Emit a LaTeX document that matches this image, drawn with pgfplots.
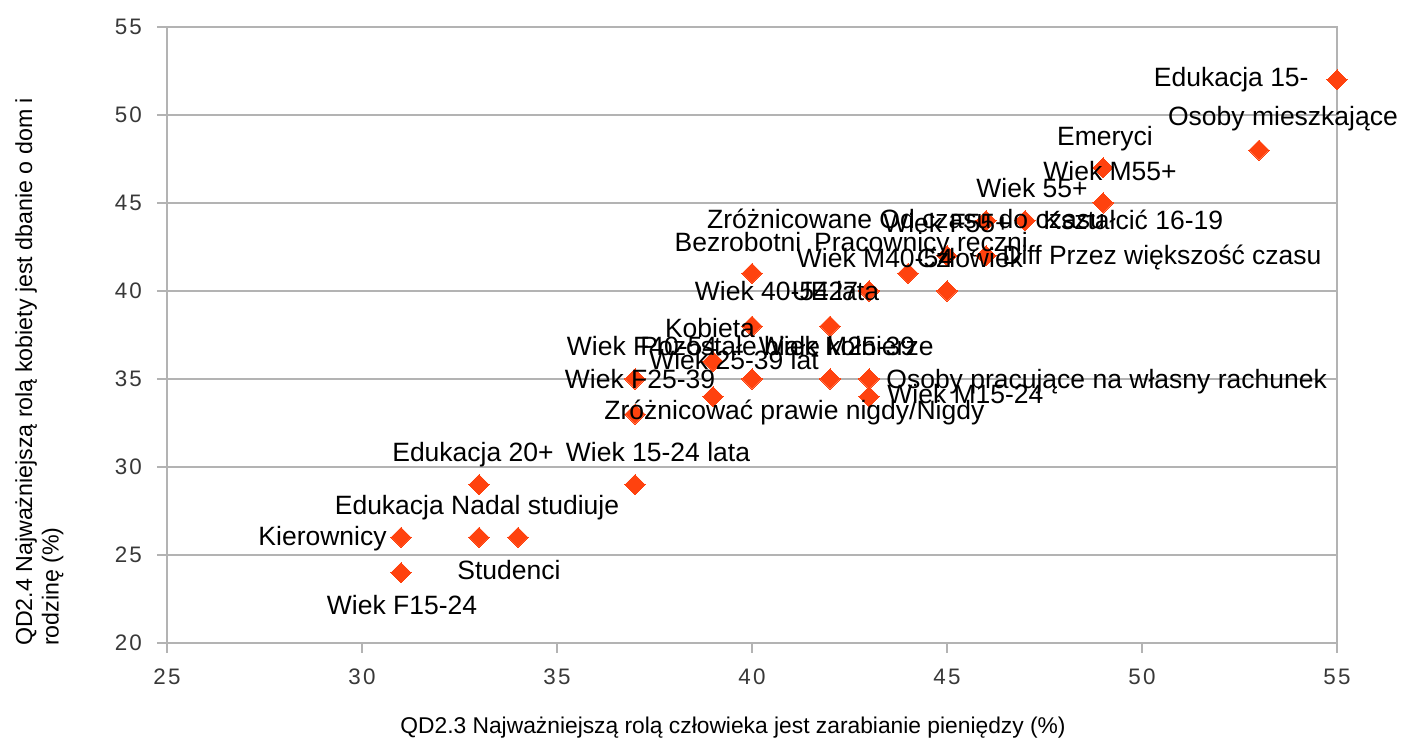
\documentclass[border=0pt]{standalone}
\usepackage{fontspec}
\setmainfont{Liberation Sans}
\newfontfamily\tickfont[LetterSpace=10]{Liberation Sans}
\usepackage{pgfplots}
\usepackage{pgfplotstable}
\pgfplotsset{compat=1.18}
\usetikzlibrary{calc}
\definecolor{orangered}{HTML}{FF420E}
\definecolor{gridgray}{HTML}{B3B3B3}

% data points
\pgfplotstableread{
x y
55 52
53 48
49 47
49 45
47 44
46 44
45 42
46 42
40 41
44 41
43 40
45 40
40 38
42 38
39 36
37 35
40 35
42 35
43 35
39 34
43 34
37 33
33 29
37 29
31 26
33 26
34 26
31 24
}\pts

% labels: point x y, offset dx dy (pt), text
\pgfplotstableread{
x y dx dy label
53 48 12 16 {Osoby mieszkające}
49 47 1 14.5 {Emeryci}
49 45 3.5 15 {Wiek M55+}
47 44 3.5 15 {Wiek 55+}
46 44 -40 -0.5 {Zróżnicowane Od czasu do czasu}
45 42 0 15 {Wiek F55+}
40 41 -7 14.5 {Bezrobotni}
44 41 6.5 14.5 {Pracownicy ręczni}
43 40 3 15.5 {Wiek M40-54}
45 40 11.5 15.5 {Człowiek}
40 38 17.5 16.5 {Wiek 40-54 lata}
42 38 -2.5 16.5 {UE27}
39 36 -1.5 15.5 {Kobieta}
37 35 2.5 -1 {Wiek F25-39}
37 35 3.5 15.5 {Wiek F40-54}
40 35 17.5 15.5 {Pozostałe białe kołnierze}
39 34 10.5 17 {Wiek 25-39 lat}
42 35 3.5 15.5 {Wiek M25-39}
33 29 -3 15 {Edukacja 20+}
37 29 11.5 15 {Wiek 15-24 lata}
33 26 -1 15 {Edukacja Nadal studiuje}
34 26 -4.5 -17.5 {Studenci}
31 24 0.5 -17.5 {Wiek F15-24}
}\lblcenter

\pgfplotstableread{
x y dx dy label
47 44 9 -1 {Kształcić 16-19}
46 42 8 -1 {Diff Przez większość czasu}
43 35 8.5 -1 {Osoby pracujące na własny rachunek}
43 34 9 0 {Wiek M15-24}
37 33 -15.5 1 {Zróżnicować prawie nigdy/Nigdy}
}\lblwest

\pgfplotstableread{
x y dx dy label
55 52 -14 0 {Edukacja 15-}
31 26 -7 -0.5 {Kierownicy}
}\lbleast

\begin{document}
\begin{tikzpicture}
\begin{axis}[
  scale only axis, width=585pt, height=308pt,
  xmin=25, xmax=55, ymin=20, ymax=55,
  xtick={25,30,...,55}, ytick={20,25,...,55},
  ymajorgrids,
  grid style={draw=gridgray, line width=0.6pt},
  axis line style={draw=gridgray, line width=0.6pt},
  tick style={draw=gridgray, line width=0.6pt},
  tick align=outside, major tick length=5pt,
  xtick pos=left, ytick pos=left,
  ticklabel style={font=\tickfont\fontsize{11.2}{13}\selectfont, text=black!78},
  /pgf/number format/assume math mode=true,
  xticklabel style={yshift=-4.5pt},
  yticklabel style={xshift=-4pt},
  every axis x label/.style={at={(axis description cs:0.4838,-0.138)}, anchor=center, font=\fontsize{11.4}{13}\selectfont},
  every axis y label/.style={at={(axis description cs:-0.0825,0.44)}, anchor=south, rotate=90, align=left, font=\fontsize{11.6}{13.2}\selectfont},
  xlabel={QD2.3 Najważniejszą rolą człowieka jest zarabianie pieniędzy (\%)},
  ylabel={QD2.4 Najważniejszą rolą kobiety jest dbanie o dom i\\rodzinę (\%)},
  clip=false,
  lbl/.style={only marks, mark=none, point meta=explicit symbolic, nodes near coords,
    every node near coord/.append style={font=\fontsize{13.25}{15}\selectfont, text=black,
      anchor=#1, inner sep=0pt, text height=0.72em, text depth=0pt}},
]
\addplot[only marks, color=orangered, mark=square*, mark size=3.54pt,
  mark options={fill=orangered, draw=orangered, line width=0pt, rotate=45}] table[x=x, y=y] {\pts};
\addplot[lbl=center] table[x expr=\thisrow{x}+\thisrow{dx}/19.5, y expr=\thisrow{y}+\thisrow{dy}/8.8, meta=label] {\lblcenter};
\addplot[lbl=west] table[x expr=\thisrow{x}+\thisrow{dx}/19.5, y expr=\thisrow{y}+\thisrow{dy}/8.8, meta=label] {\lblwest};
\addplot[lbl=east] table[x expr=\thisrow{x}+\thisrow{dx}/19.5, y expr=\thisrow{y}+\thisrow{dy}/8.8, meta=label] {\lbleast};
\coordinate (sw) at (rel axis cs:0,0);
\coordinate (ne) at (rel axis cs:1,1);
\end{axis}
\pgfresetboundingbox
\path[use as bounding box] ($(sw)+(-83.5pt,-49.5pt)$) rectangle ($(ne)+(33pt,13.5pt)$);
\end{tikzpicture}
\end{document}
